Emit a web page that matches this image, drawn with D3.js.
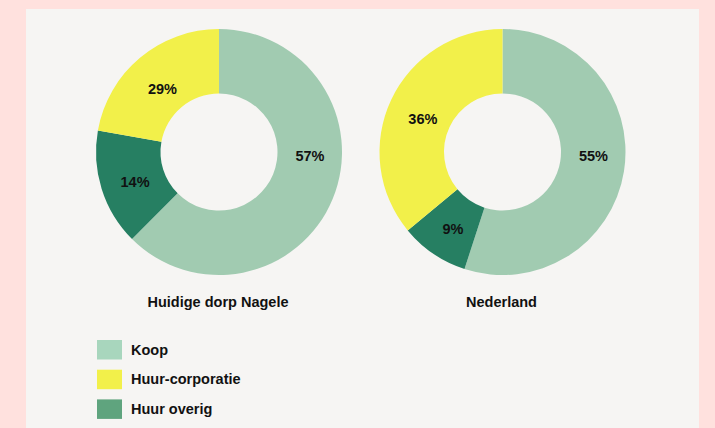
<!DOCTYPE html>
<html>
<head>
<meta charset="utf-8">
<script src="https://cdn.jsdelivr.net/npm/d3@7"></script>
<style>
  body { margin: 0; background: #ffe1de; }
  svg { display: block; font-family: "Liberation Sans", Arial, sans-serif; }
</style>
</head>
<body>
<svg width="715" height="428"></svg>
<script>
// categories in drawing order (clockwise from 12 o'clock)
const categories = ["Koop", "Huur overig", "Huur-corporatie"];
// slice sizes as drawn in the picture
const nageleValues = [62.5, 15.3, 22.2];
const nederlandValues = [55, 9, 36];
// printed labels
const nageleLabels = ["57%", "14%", "29%"];
const nederlandLabels = ["55%", "9%", "36%"];
const titles = ["Huidige dorp Nagele", "Nederland"];
const legendItems = ["Koop", "Huur-corporatie", "Huur overig"];

const sliceColor = d3.scaleOrdinal()
    .domain(categories)
    .range(["#a1cbb1", "#267f62", "#f2f04a"]);
const legendColor = d3.scaleOrdinal()
    .domain(legendItems)
    .range(["#a8d6bd", "#f2f04a", "#5fa47e"]);

var svg = d3.select("svg");

// panel
svg.append("rect")
    .attr("x", 26).attr("y", 9)
    .attr("width", 673).attr("height", 430)
    .attr("fill", "#f6f5f3");

var outerR = 123, innerR = 58.5;
var pie = d3.pie().sort(null).value(d => d);
var arc = d3.arc().innerRadius(innerR).outerRadius(outerR);

function donut(cx, values, labels, title){
    var g = svg.append("g")
        .attr("transform", "translate(" + cx + ",152)");

    var arcs = pie(values);

    g.selectAll("path")
        .data(arcs)
      .enter().append("path")
        .attr("d", arc)
        .attr("fill", (d, i) => sliceColor(categories[i]));

    g.selectAll(".lbl")
        .data(arcs)
      .enter().append("text")
        .attr("class", "lbl")
        .attr("transform", function(d, i){
            // biggest slice label sits at 3 o'clock, others at their centroid
            var a = i === 0 ? Math.PI / 2 : (d.startAngle + d.endAngle) / 2;
            var r = i === 0 ? 91 : 88;
            return "translate(" + (Math.sin(a) * r) + "," + (-Math.cos(a) * r + 4) + ")";
        })
        .attr("dy", "0.35em")
        .attr("text-anchor", "middle")
        .attr("font-size", "14.5px")
        .attr("font-weight", "bold")
        .attr("fill", "#111")
        .text((d, i) => labels[i]);

    svg.append("text")
        .attr("x", cx - 1)
        .attr("y", 306.5)
        .attr("text-anchor", "middle")
        .attr("font-size", "14.5px")
        .attr("font-weight", "bold")
        .attr("fill", "#111")
        .text(title);
}

donut(219, nageleValues, nageleLabels, titles[0]);
donut(502.5, nederlandValues, nederlandLabels, titles[1]);

// legend
var legend = svg.append("g").attr("transform", "translate(97,340)");
var row = legend.selectAll("g")
    .data(legendItems)
  .enter().append("g")
    .attr("transform", (d, i) => "translate(0," + (i * 29.7) + ")");

row.append("rect")
    .attr("width", 25)
    .attr("height", 19.5)
    .attr("fill", d => legendColor(d));

row.append("text")
    .attr("x", 34)
    .attr("y", 9.5)
    .attr("dy", "0.35em")
    .attr("font-size", "14.5px")
    .attr("font-weight", "bold")
    .attr("fill", "#111")
    .text(d => d);
</script>
</body>
</html>
